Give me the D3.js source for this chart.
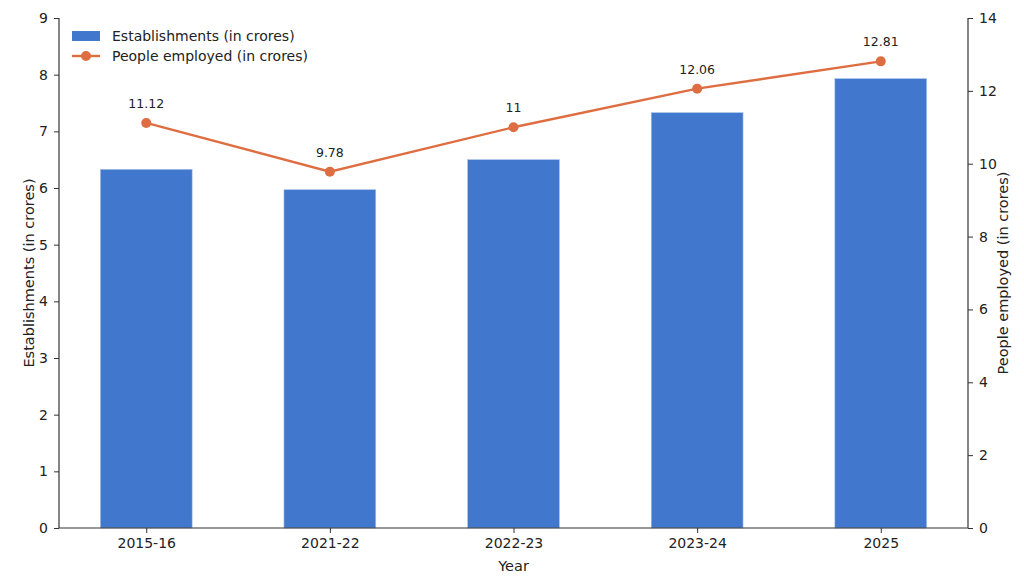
<!DOCTYPE html>
<html>
<head>
<meta charset="utf-8">
<script src="https://cdn.jsdelivr.net/npm/d3@7"></script>
<style>
  body { margin: 0; background: #fff; }
  svg, svg text { font-family: "DejaVu Sans", sans-serif; }
</style>
</head>
<body>
<div id="chart"></div>
<script>
// Data
const years = ["2015-16", "2021-22", "2022-23", "2023-24", "2025"];
const establishments = [6.33, 5.97, 6.5, 7.33, 7.93];
const employed = [11.12, 9.78, 11, 12.06, 12.81];
const leftTicks = [0, 1, 2, 3, 4, 5, 6, 7, 8, 9];
const rightTicks = [0, 2, 4, 6, 8, 10, 12, 14];

const width = 1024, height = 579;
const margin = { top: 18, right: 56, bottom: 51, left: 59 };
const barColor = "#4177cd";
const lineColor = "#de6e41";

const svg = d3.select("#chart")
    .append("svg")
    .attr("width", width)
    .attr("height", height);

const x = d3.scalePoint()
    .domain(years)
    .range([margin.left, width - margin.right])
    .padding(0.475);

const yLeft = d3.scaleLinear()
    .domain([0, 9])
    .range([height - margin.bottom, margin.top]);

const yRight = d3.scaleLinear()
    .domain([0, 14])
    .range([height - margin.bottom, margin.top]);

const barWidth = x.step() * 0.5;

// Bars
svg.selectAll(".bar")
    .data(years)
    .enter().append("rect")
    .attr("class", "bar")
    .attr("x", d => x(d) - barWidth / 2)
    .attr("width", barWidth)
    .attr("y", (d, i) => yLeft(establishments[i]))
    .attr("height", (d, i) => yLeft(0) - yLeft(establishments[i]))
    .attr("fill", barColor)
    .attr("stroke", "#a9c3ea")
    .attr("stroke-width", 0.6);

// Axes
const xAxis = svg.append("g")
    .attr("transform", `translate(0,${height - margin.bottom})`)
    .call(d3.axisBottom(x).tickSize(5).tickPadding(5));

const leftAxis = svg.append("g")
    .attr("transform", `translate(${margin.left},0)`)
    .call(d3.axisLeft(yLeft).tickValues(leftTicks).tickSize(5).tickPadding(6));

const rightAxis = svg.append("g")
    .attr("transform", `translate(${width - margin.right},0)`)
    .call(d3.axisRight(yRight).tickValues(rightTicks).tickSize(5).tickPadding(6));

[xAxis, leftAxis, rightAxis].forEach(g => {
    g.attr("font-size", 14).attr("font-family", "DejaVu Sans, sans-serif");
    g.selectAll("text").attr("fill", "#222");
    g.selectAll("line").attr("stroke", "#333");
    g.select(".domain").attr("stroke", "#333").attr("stroke-width", 1.2);
});
// matplotlib-style spines, no outer ticks at ends
xAxis.select(".domain").attr("d", `M${margin.left},0H${width - margin.right}`);
leftAxis.select(".domain").attr("d", `M0,${yLeft(0)}V${yLeft(9)}`);
rightAxis.select(".domain").attr("d", `M0,${yRight(0)}V${yRight(14)}`);

// Line + markers
const line = d3.line()
    .x((d, i) => x(years[i]))
    .y(d => yRight(d));

svg.append("path")
    .datum(employed)
    .attr("fill", "none")
    .attr("stroke", lineColor)
    .attr("stroke-width", 2.4)
    .attr("d", line);

svg.selectAll(".dot")
    .data(employed)
    .enter().append("circle")
    .attr("class", "dot")
    .attr("cx", (d, i) => x(years[i]))
    .attr("cy", d => yRight(d))
    .attr("r", 5)
    .attr("fill", lineColor);

svg.selectAll(".lbl")
    .data(employed)
    .enter().append("text")
    .attr("class", "lbl")
    .attr("x", (d, i) => x(years[i]))
    .attr("y", d => yRight(d) - 15)
    .attr("text-anchor", "middle")
    .attr("font-size", 12.5)
    .attr("fill", "#222")
    .text(d => d);

// Axis titles
svg.append("text")
    .attr("x", (margin.left + width - margin.right) / 2)
    .attr("y", height - 8)
    .attr("text-anchor", "middle")
    .attr("font-size", 14.5)
    .attr("fill", "#222")
    .text("Year");

svg.append("text")
    .attr("transform", `translate(34,${(margin.top + height - margin.bottom) / 2}) rotate(-90)`)
    .attr("text-anchor", "middle")
    .attr("font-size", 14.5)
    .attr("fill", "#222")
    .text("Establishments (in crores)");

svg.append("text")
    .attr("transform", `translate(1008,${(margin.top + height - margin.bottom) / 2}) rotate(-90)`)
    .attr("text-anchor", "middle")
    .attr("font-size", 14.5)
    .attr("fill", "#222")
    .text("People employed (in crores)");

// Legend
const legend = svg.append("g").attr("transform", "translate(72,36)");
legend.append("rect")
    .attr("x", 0).attr("y", -5)
    .attr("width", 28).attr("height", 10)
    .attr("fill", barColor);
legend.append("text")
    .attr("x", 40).attr("y", 5)
    .attr("font-size", 14)
    .attr("fill", "#222")
    .text("Establishments (in crores)");
legend.append("line")
    .attr("x1", 0).attr("x2", 28)
    .attr("y1", 20).attr("y2", 20)
    .attr("stroke", lineColor)
    .attr("stroke-width", 2.4);
legend.append("circle")
    .attr("cx", 14).attr("cy", 20).attr("r", 5)
    .attr("fill", lineColor);
legend.append("text")
    .attr("x", 40).attr("y", 25)
    .attr("font-size", 14)
    .attr("fill", "#222")
    .text("People employed (in crores)");
</script>
</body>
</html>
